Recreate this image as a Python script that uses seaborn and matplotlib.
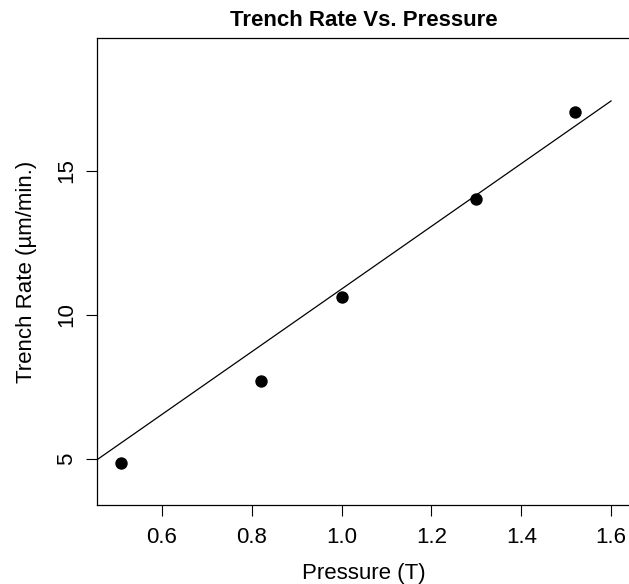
import matplotlib
matplotlib.use("Agg")
import matplotlib.pyplot as plt
import seaborn as sns
import pandas as pd

# Data
pressure = [0.51, 0.82, 1.00, 1.30, 1.52]
trench_rate = [4.84, 7.71, 10.63, 14.00, 17.04]
fit_x = [0.456, 1.60]
fit_y = [4.97, 17.42]
x_ticks = [0.6, 0.8, 1.0, 1.2, 1.4, 1.6]
x_tick_labels = ["0.6", "0.8", "1.0", "1.2", "1.4", "1.6"]
y_ticks = [5, 10, 15]
y_tick_labels = ["5", "10", "15"]

df = pd.DataFrame({"Pressure": pressure, "Rate": trench_rate})
fit = pd.DataFrame({"x": fit_x, "y": fit_y})

sns.set_style("ticks")
plt.rcParams["font.family"] = ["Liberation Sans", "DejaVu Sans"]
plt.rcParams["text.color"] = "black"
plt.rcParams["axes.labelcolor"] = "black"

W, H = 629, 584
fig = plt.figure(figsize=(W / 100, H / 100), dpi=100)
left, right, top, bottom = 97, 631, 38, 505
ax = fig.add_axes([left / W, (H - bottom) / H, (right - left) / W, (bottom - top) / H])

sns.lineplot(data=fit, x="x", y="y", ax=ax, color="black", linewidth=0.9, estimator=None, sort=False)
sns.scatterplot(data=df, x="Pressure", y="Rate", ax=ax, color="black", s=80, edgecolor="black", linewidth=0)

ax.set_xlim(0.456, 1.644)
ax.set_ylim(3.4, 19.6)
ax.set_xticks(x_ticks)
ax.set_xticklabels(x_tick_labels)
ax.set_yticks(y_ticks)
ax.set_yticklabels(y_tick_labels, rotation=90, va="center")
ax.tick_params(axis="both", direction="out", length=8, width=0.8, labelsize=16, colors="black")
ax.tick_params(axis="x", pad=8)
ax.tick_params(axis="y", pad=6)
for s in ax.spines.values():
    s.set_linewidth(0.9)
    s.set_color("black")
    s.set_visible(True)

ax.set_xlabel("Pressure (T)", fontsize=16, color="black")
ax.set_ylabel("Trench Rate (\u00b5m/min.)", fontsize=16, color="black")
ax.xaxis.set_label_coords(0.5, -(573 - bottom) / (bottom - top), transform=ax.transAxes)
ax.yaxis.set_label_coords(-(left - 27) / (right - left), 0.5, transform=ax.transAxes)
ax.xaxis.label.set_va("center")
ax.yaxis.label.set_va("center")
ax.set_title("Trench Rate Vs. Pressure", fontsize=16, fontweight="bold", pad=9, color="black")
ax.grid(False)

fig.savefig("out.png", dpi=100)
